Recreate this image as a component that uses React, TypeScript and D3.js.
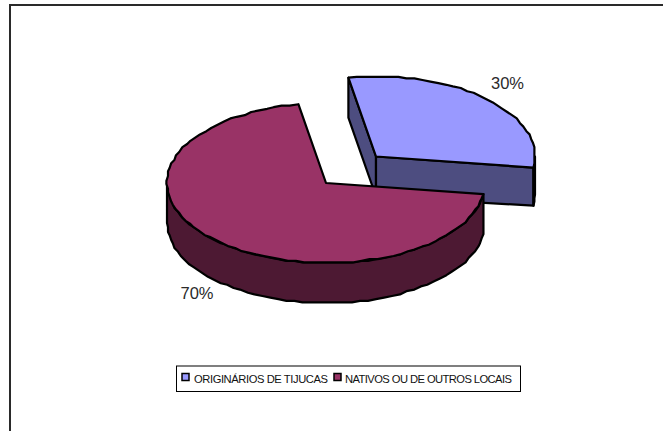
import React from "react";
import * as d3 from "d3";

// Share of respondents by origin
const categories = ["ORIGINÁRIOS DE TIJUCAS", "NATIVOS OU DE OUTROS LOCAIS"];
const shares = [30, 70];
const shareLabels = ["30%", "70%"];
const topColors = ["#9999FF", "#993366"];
const wallColors = ["#4D4D80", "#4D1933"];

const WIDTH = 663;
const HEIGHT = 431;
const RX = 159;
const RY = 80;
const DEPTH = 40;
const TILT_START = (-10 * Math.PI) / 180;
// Pie centre of each slice; the slices are pulled apart from each other
const centers = [
  { x: 376, y: 156.5 },
  { x: 326, y: 183 },
];
const labelAnchors = [
  { x: 491, y: 88.5 },
  { x: 180.5, y: 299 },
];
const legendText = [
  { swatch: 182, x: 194, width: 134 },
  { swatch: 334, x: 345, width: 167 },
];

type Pt = [number, number];

const arcs = d3
  .pie<number>()
  .sort(null)
  .startAngle(TILT_START)
  .endAngle(TILT_START + 2 * Math.PI)(shares);

const project = (c: { x: number; y: number }, a: number, drop = 0): Pt => [
  c.x + RX * Math.sin(a),
  c.y - RY * Math.cos(a) + drop,
];

// Rim points are snapped to a pixel grid, giving the rim its stepped outline
const GRID = 1.6;
const rim = (c: { x: number; y: number }, a0: number, a1: number, drop = 0): Pt[] => {
  const n = Math.max(2, Math.round(Math.abs(a1 - a0) / ((3 * Math.PI) / 180)));
  return d3.range(n + 1).map((i) => {
    const [x, y] = project(c, a0 + ((a1 - a0) * i) / n, drop);
    return i === 0 || i === n
      ? ([x, y] as Pt)
      : ([Math.round(x / GRID) * GRID, Math.round(y / GRID) * GRID] as Pt);
  });
};

const line = d3.line<Pt>().curve(d3.curveLinear);
const closed = (pts: Pt[]) => (line(pts) as string) + "Z";

function Slice({ index }: { index: number }) {
  const c = centers[index];
  const { startAngle: a0, endAngle: a1 } = arcs[index];
  const top = closed([[c.x, c.y], ...rim(c, a0, a1)]);
  const walls: string[] = [];
  const common = { fill: wallColors[index], stroke: "#000", strokeWidth: 2.2, strokeLinejoin: "round" as const };

  if (index === 0) {
    // Cut faces seen on the left and front of the pulled-out slice
    const s = project(c, a0);
    const e = project(c, a1);
    walls.push(closed([[c.x, c.y], s, [s[0], s[1] + DEPTH], [c.x, c.y + DEPTH]]));
    walls.push(closed([[c.x, c.y], e, [e[0], e[1] + DEPTH - 2], [c.x, c.y + DEPTH]]));
  }
  // Outer wall: only the part of the rim facing the viewer
  const from = Math.max(a0, Math.PI / 2);
  const to = Math.min(a1, (3 * Math.PI) / 2);
  if (to > from) {
    const depth = index === 0 ? DEPTH - 2 : DEPTH;
    walls.push(closed([...rim(c, from, to), ...rim(c, from, to, depth).reverse()]));
  }
  return (
    <g>
      {walls.map((d, i) => (
        <path key={i} d={d} {...common} />
      ))}
      <path d={top} fill={topColors[index]} stroke="#000" strokeWidth={2.2} strokeLinejoin="round" />
    </g>
  );
}

export default function App() {
  return (
    <svg
      width={WIDTH}
      height={HEIGHT}
      style={{ position: "fixed", left: 0, top: 0, background: "#fff" }}
      fontFamily="'Liberation Sans', Arial, sans-serif"
    >
      <path d={`M10,${HEIGHT}V5H${WIDTH}`} fill="none" stroke="#2a2a2a" strokeWidth={2} />
      {arcs.map((_, i) => (
        <Slice key={i} index={i} />
      ))}
      {shareLabels.map((t, i) => (
        <text key={t} x={labelAnchors[i].x} y={labelAnchors[i].y} fontSize={16.5} fill="#2a2a2a">
          {t}
        </text>
      ))}
      <rect x={176.5} y={366} width={344} height={25.5} fill="#fff" stroke="#000" strokeWidth={1} />
      {categories.map((name, i) => (
        <g key={name}>
          <rect
            x={legendText[i].swatch}
            y={373.5}
            width={7}
            height={7}
            fill={topColors[i]}
            stroke="#000"
            strokeWidth={1.5}
          />
          <text
            x={legendText[i].x}
            y={383}
            fontSize={11.2}
            fill="#111"
            textLength={legendText[i].width}
            lengthAdjust="spacing"
          >
            {name}
          </text>
        </g>
      ))}
    </svg>
  );
}
